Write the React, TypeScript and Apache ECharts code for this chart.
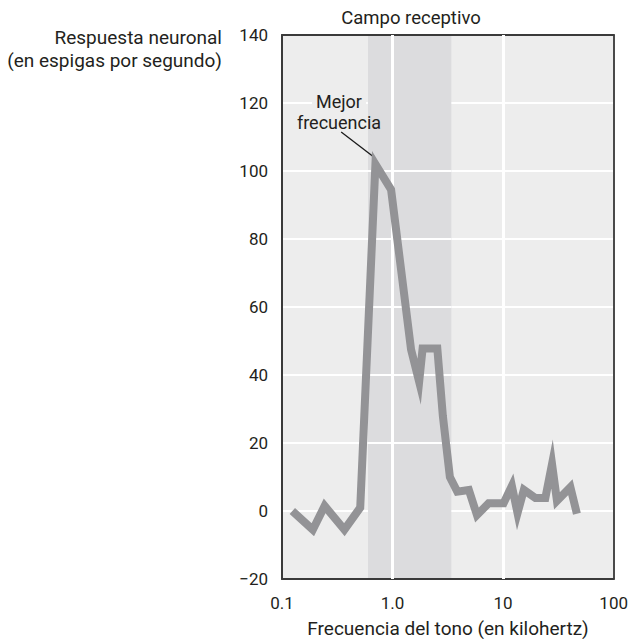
import React, { useEffect, useRef } from "react";
import * as echarts from "echarts";

// Frequency of the tone (kHz) and neuronal response (spikes per second)
const freqKHz = [
  0.124, 0.19, 0.243, 0.367, 0.51, 0.7, 0.97, 1.47, 1.74, 1.87, 2.54, 2.85,
  3.3, 3.85, 4.9, 5.8, 7.4, 10.1, 12.0, 13.5, 15.4, 19.6, 24.1, 27.7, 30.7,
  40.6, 46.5,
];
const spikes = [
  0, -5.5, 1.5, -5.5, 1, 102, 94.5, 47.5, 38, 47.8, 47.8, 28, 10, 5.7, 6.2,
  -1.2, 2.3, 2.3, 7.4, -0.6, 6.2, 3.8, 3.8, 13.8, 3, 7, -0.8,
];

const receptiveField = [0.6, 3.4];
const bandGridValues = [20, 40, 60, 80, 100];
const xGridValues = [1, 10];
const xTickLabels = ["0.1", "1.0", "10", "100"];
const yMin = -20;
const yMax = 140;
const yStep = 20;
const bestFreqLeader = [
  [0.343, 111.5],
  [0.672, 104.2],
];

const FONT = "Roboto, 'Liberation Sans', sans-serif";
const TEXT = "#231f20";

export default function App() {
  const ref = useRef<HTMLDivElement>(null);

  useEffect(() => {
    document.body.style.margin = "0";
    if (!ref.current) return;
    const chart = echarts.init(ref.current, null, { renderer: "svg" });

    const markerLine = {
      symbol: ["none", "none"],
      silent: true,
      label: { show: false },
      emphasis: { disabled: true },
    };

    chart.setOption({
      animation: false,
      backgroundColor: "#ffffff",
      grid: {
        left: 282,
        right: 16,
        top: 35,
        bottom: 60,
        show: true,
        backgroundColor: "#ededed",
        borderWidth: 0,
      },
      xAxis: [
        {
          type: "log",
          logBase: 10,
          min: 0.1,
          max: 100,
          position: "bottom",
          z: 3,
          axisLine: {
            show: true,
            onZero: false,
            lineStyle: { color: "#3a3a3a", width: 2 },
          },
          axisTick: { show: false },
          splitLine: { show: false },
          axisLabel: {
            margin: 15,
            color: TEXT,
            fontSize: 17,
            fontFamily: FONT,
            formatter: (v: number) =>
              xTickLabels[Math.round(Math.log10(v)) + 1] ?? String(v),
          },
        },
        {
          type: "log",
          logBase: 10,
          min: 0.1,
          max: 100,
          position: "top",
          z: 3,
          axisLine: {
            show: true,
            onZero: false,
            lineStyle: { color: "#3a3a3a", width: 2 },
          },
          axisTick: { show: false },
          axisLabel: { show: false },
          splitLine: { show: false },
        },
      ],
      yAxis: [
        {
          type: "value",
          min: yMin,
          max: yMax,
          interval: yStep,
          position: "left",
          axisLine: {
            show: true,
            onZero: false,
            lineStyle: { color: "#3a3a3a", width: 2 },
          },
          axisTick: { show: false },
          axisLabel: {
            margin: 14,
            color: TEXT,
            fontSize: 17,
            fontFamily: FONT,
            formatter: (v: number) => (v < 0 ? "\u2212" + Math.abs(v) : String(v)),
          },
          splitLine: {
            show: true,
            showMinLine: false,
            showMaxLine: false,
            lineStyle: { color: "#ffffff", width: 2 },
          },
        },
        {
          type: "value",
          min: yMin,
          max: yMax,
          interval: yStep,
          position: "right",
          z: 3,
          axisLine: {
            show: true,
            onZero: false,
            lineStyle: { color: "#4a4a4a", width: 2 },
          },
          axisTick: { show: false },
          axisLabel: { show: false },
          splitLine: { show: false },
        },
      ],
      series: [
        {
          type: "line",
          z: 1,
          data: [],
          silent: true,
          markArea: {
            silent: true,
            itemStyle: { color: "#dcdcde" },
            data: [
              [
                { coord: [receptiveField[0], yMin] },
                { coord: [receptiveField[1], yMax] },
              ],
            ],
          },
        },
        {
          type: "line",
          z: 2,
          data: [],
          silent: true,
          markLine: {
            ...markerLine,
            lineStyle: { color: "#ffffff", width: 2, type: "solid" },
            data: bandGridValues.map((v) => [
              { coord: [receptiveField[0], v] },
              { coord: [receptiveField[1], v] },
            ]),
          },
        },
        {
          type: "line",
          z: 3,
          data: [],
          silent: true,
          markLine: {
            ...markerLine,
            lineStyle: { color: "#ffffff", width: 3, type: "solid" },
            data: xGridValues.map((v) => [
              { coord: [v, yMin] },
              { coord: [v, yMax] },
            ]),
          },
        },
        {
          type: "line",
          z: 5,
          data: freqKHz.map((f, i) => [f, spikes[i]]),
          symbol: "none",
          silent: true,
          lineStyle: {
            color: "#939396",
            width: 8,
            join: "miter",
            miterLimit: 20,
            cap: "butt",
          },
        },
        {
          type: "line",
          z: 6,
          data: [],
          silent: true,
          markLine: {
            ...markerLine,
            lineStyle: { color: "#1a1a1a", width: 1.3, type: "solid" },
            data: [
              [
                { coord: bestFreqLeader[0] },
                { coord: bestFreqLeader[1] },
              ],
            ],
          },
        },
      ],
      graphic: [
        {
          type: "text",
          x: 411,
          y: 18,
          style: {
            text: "Campo receptivo",
            fill: TEXT,
            font: `18.5px ${FONT}`,
            textAlign: "center",
            textVerticalAlign: "middle",
          },
        },
        {
          type: "text",
          x: 222,
          y: 37,
          style: {
            text: "Respuesta neuronal",
            fill: TEXT,
            font: `19px ${FONT}`,
            textAlign: "right",
            textVerticalAlign: "middle",
          },
        },
        {
          type: "text",
          x: 222,
          y: 60,
          style: {
            text: "(en espigas por segundo)",
            fill: TEXT,
            font: `19px ${FONT}`,
            textAlign: "right",
            textVerticalAlign: "middle",
          },
        },
        {
          type: "text",
          x: 448,
          y: 628,
          style: {
            text: "Frecuencia del tono (en kilohertz)",
            fill: TEXT,
            font: `19px ${FONT}`,
            textAlign: "center",
            textVerticalAlign: "middle",
          },
        },
        {
          type: "text",
          x: 339,
          y: 101,
          z: 10,
          style: {
            text: "Mejor",
            fill: TEXT,
            font: `18px ${FONT}`,
            textAlign: "center",
            textVerticalAlign: "middle",
            backgroundColor: "#ededed",
            padding: [0, 4],
          },
        },
        {
          type: "text",
          x: 339,
          y: 122,
          z: 10,
          style: {
            text: "frecuencia",
            fill: TEXT,
            font: `18px ${FONT}`,
            textAlign: "center",
            textVerticalAlign: "middle",
          },
        },
      ],
    });

    return () => chart.dispose();
  }, []);

  return <div ref={ref} style={{ width: 631, height: 639 }} />;
}
